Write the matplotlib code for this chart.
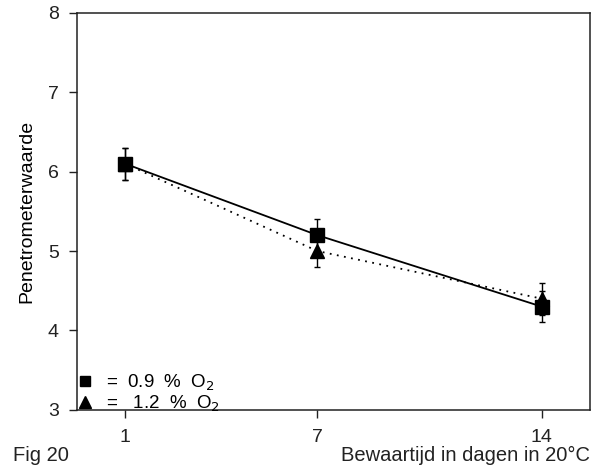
import matplotlib
matplotlib.use("Agg")
import matplotlib.pyplot as plt
from matplotlib.lines import Line2D

plt.rcParams['font.family'] = ['Liberation Sans', 'DejaVu Sans']

# Storage time (days at 20 °C)
days = [1, 7, 14]
xtick_labels = ["1", "7", "14"]

# Penetrometer readings per oxygen level
o2_09 = [6.1, 5.2, 4.3]
o2_09_err = [0.2, 0.2, 0.2]
o2_12 = [6.1, 5.0, 4.4]
o2_12_err = [0.2, 0.2, 0.2]

labels = ["=  0.9  %  O$_2$", "=   1.2  %  O$_2$"]

fig = plt.figure(figsize=(5.97, 4.76), dpi=100)
ax = fig.add_axes([0.129, 0.139, 0.859, 0.834])

ink = "black"
ax.errorbar(days, o2_12, yerr=o2_12_err, color=ink, linestyle=(0, (1, 3)),
            linewidth=1.3, marker="^", markersize=10, capsize=2.5,
            elinewidth=1.0, capthick=1.0, zorder=3)
ax.errorbar(days, o2_09, yerr=o2_09_err, color=ink, linestyle="-",
            linewidth=1.3, marker="s", markersize=9.5, capsize=2.5,
            elinewidth=1.0, capthick=1.0, zorder=4)

ax.set_xlim(-0.5, 15.5)
ax.set_ylim(3, 8)
ax.set_xticks(days)
ax.set_xticklabels(xtick_labels)
ax.set_yticks([3, 4, 5, 6, 7, 8])

for s in ax.spines.values():
    s.set_color("#222222")
    s.set_linewidth(1.1)

ax.tick_params(axis="both", direction="out", length=6, width=1.0,
               labelsize=14, colors="#222222")
ax.tick_params(axis="y", pad=7)
ax.tick_params(axis="x", pad=8)

ax.set_ylabel("Penetrometerwaarde", fontsize=14, labelpad=9)

handles = [
    Line2D([], [], color=ink, marker="s", linestyle="none", markersize=7.5),
    Line2D([], [], color=ink, marker="^", linestyle="none", markersize=8),
]
ax.legend(handles, labels, loc="lower left", frameon=False, fontsize=13.5,
          handlelength=0.6, handletextpad=0.8, labelspacing=0.02,
          borderaxespad=0.0, borderpad=0.0, bbox_to_anchor=(0.005, -0.01))

fig.text(0.022, 0.043, "Fig 20", fontsize=14.5, ha="left", va="center",
         color="#222222")
fig.text(0.988, 0.043, "Bewaartijd in dagen in 20\u00b0C", fontsize=14.5,
         ha="right", va="center", color="#222222")

fig.savefig("out.png", dpi=100)
